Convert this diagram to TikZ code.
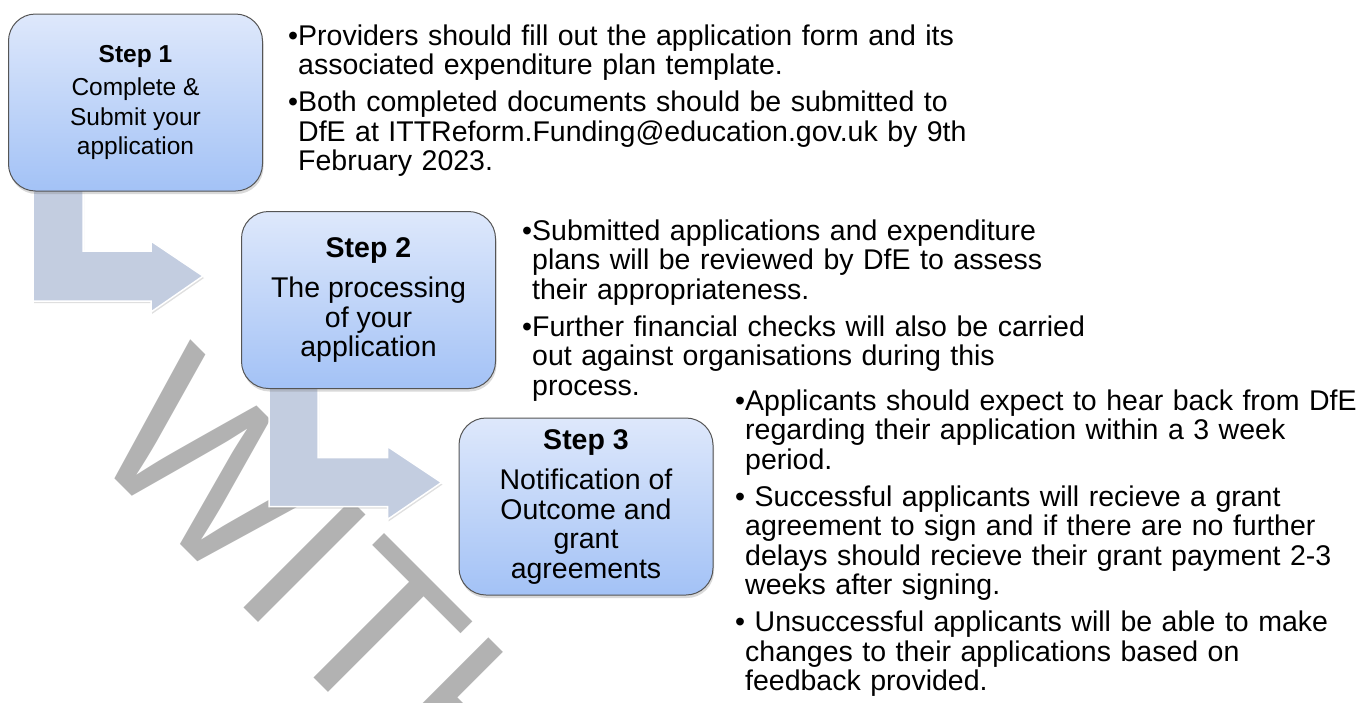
\documentclass[tikz,border=0pt]{standalone}
\usepackage{fontspec}
\setmainfont{Liberation Sans}
\usetikzlibrary{calc,shadows,backgrounds}
\definecolor{boxtop}{RGB}{222,232,251}
\definecolor{boxbot}{RGB}{163,194,246}
\definecolor{boxline}{RGB}{85,85,85}
\definecolor{arrowblue}{RGB}{195,205,224}
\tikzset{
    stepbox/.style ={rectangle, rounded corners=27pt, draw=boxline, line width=1pt,
        top color=boxtop, bottom color=boxbot, minimum width=254pt, minimum height=177pt,
        align=center, font=\fontsize{28.5}{29.5}\selectfont,
        drop shadow={shadow xshift=1pt, shadow yshift=-3pt, opacity=0.3}},
    bentarrow/.style ={fill=arrowblue, draw=white, line width=1.5pt,
        drop shadow={shadow xshift=1pt, shadow yshift=-2pt, opacity=0.25}},
    notes/.style ={anchor=base west, inner sep=0pt, font=\fontsize{28.5}{29.5}\selectfont},
    stamp/.style ={anchor=base west, inner sep=0pt, rotate=-45, text=gray!60,
        font=\fontsize{221}{221}\selectfont}}
\newcommand{\bitem}[1]{\setbox0\hbox{\textbullet}\hangindent\wd0\hangafter1\noindent\box0\relax#1\par}
\newcommand{\notestart}{\rightskip=0pt plus 1fil\parskip=7.5pt}
\begin{document}
\begin{tikzpicture}[x=1pt,y=-1pt]
    \useasboundingbox (0,0) rectangle (1365,702);
    % the three steps
    \node[stepbox, font=\fontsize{24.5}{29.5}\selectfont] (s1) at (135.5,102.5)
        {\textbf{Step 1}\\[4pt]Complete \&\\Submit your\\application};
    \node[stepbox] (s2) at (368.5,300)
        {\textbf{Step 2}\\[11pt]The processing\\of your\\application};
    \node[stepbox] (s3) at (586,506.5)
        {\textbf{Step 3}\\[11pt]Notification of\\Outcome and\\grant\\agreements};
    % notes beside each step
    \node[notes, text width=720pt] (n1) at (288,45) {\notestart
        \bitem{Providers should fill out the application form and its\newline associated expenditure plan template.}
        \bitem{Both completed documents should be submitted to\newline DfE at ITTReform.Funding@education.gov.uk by 9th\newline February 2023.}};
    \node[notes, text width=610pt] (n2) at (522,240) {\notestart
        \bitem{Submitted applications and expenditure\newline plans will be reviewed by DfE to assess\newline their appropriateness.}
        \bitem{Further financial checks will also be carried\newline out against organisations during this\newline process.}};
    \node[notes, text width=630pt] (n3) at (735,410) {\notestart
        \bitem{Applicants should expect to hear back from DfE\newline regarding their application within a 3 week\newline period.}
        \bitem{\ Successful applicants will recieve a grant\newline agreement to sign and if there are no further\newline delays should recieve their grant payment 2-3\newline weeks after signing.}
        \bitem{\ Unsuccessful applicants will be able to make\newline changes to their applications based on\newline feedback provided.}};
    \begin{scope}[on background layer]
        % watermark
        \begin{scope}
            \clip (0,0) rectangle (1365,702);
            \node[stamp] (wm) at (82,446) {WITH};
        \end{scope}
        % bent arrows
        \draw[bentarrow] ($(s1.south west)+(25,-10)$) -- ++(50,0)
            |- ($(s2.north west)+(-90,40)$) -- ++(0,-10) -- ($(s2.north west)+(-38,65)$)
            -- ($(s2.north west)+(-90,101)$) -- ++(0,-11) -| ($(s1.south west)+(25,-10)$) -- cycle;
        \draw[bentarrow] ($(s2.south west)+(28,-10)$) -- ++(49,0)
            |- ($(s3.north west)+(-71,40)$) -- ++(0,-11) -- ($(s3.north west)+(-17,65)$)
            -- ($(s3.north west)+(-71,102)$) -- ++(0,-13) -| ($(s2.south west)+(28,-10)$) -- cycle;
    \end{scope}
\end{tikzpicture}
\end{document}
